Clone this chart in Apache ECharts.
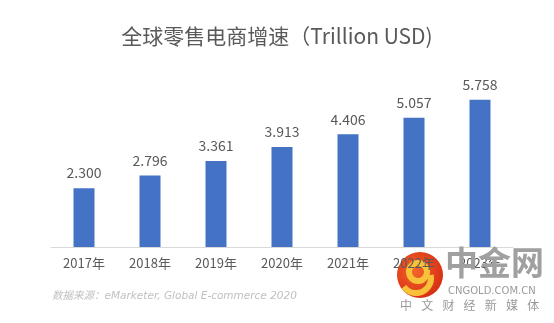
<!DOCTYPE html>
<html>
<head>
<meta charset="utf-8">
<script src="https://cdn.jsdelivr.net/npm/echarts@6/dist/echarts.min.js"></script>
<style>
  html, body { margin: 0; padding: 0; background: #ffffff; }
  #chart { width: 554px; height: 323px; }
</style>
</head>
<body>
<div id="chart"></div>
<script>
// Global retail e-commerce sales, trillion USD
const years = ['2017年', '2018年', '2019年', '2020年', '2021年', '2022年', '2023年'];
const sales = [2.300, 2.796, 3.361, 3.913, 4.406, 5.057, 5.758];

const chart = echarts.init(document.getElementById('chart'));
const grey = '#595959';
const cjk = '"Noto Sans CJK SC", "Noto Sans", sans-serif';

// brand tagline, one character per slot
const tagline = ['中', '文', '财', '经', '新', '媒', '体'];
const taglineItems = tagline.map((ch, i) => ({
  type: 'text',
  left: 400 + i * 21.2,
  top: 299,
  z: 100,
  style: { text: ch, font: '12px ' + cjk, fill: '#9a9a9a' }
}));

chart.setOption({
  animation: false,
  title: {
    text: '全球零售电商增速（Trillion USD)',
    left: 'center',
    top: 21,
    textStyle: { fontFamily: cjk, fontSize: 21, fontWeight: 'normal', color: grey }
  },
  grid: { left: 51, right: 41, top: 68, bottom: 76 },
  xAxis: {
    type: 'category',
    data: years,
    axisLine: { lineStyle: { color: '#d9d9d9', width: 1 } },
    axisTick: { show: false },
    axisLabel: { fontFamily: cjk, fontSize: 13, color: grey, margin: 10 }
  },
  yAxis: {
    type: 'value',
    min: 0,
    max: 7,
    show: false,
    splitLine: { show: false }
  },
  series: [{
    type: 'bar',
    data: sales,
    barWidth: 21,
    itemStyle: { color: '#4472C4' },
    label: {
      show: true,
      position: 'top',
      distance: 8,
      formatter: p => p.value.toFixed(3),
      fontFamily: cjk,
      fontSize: 14,
      color: grey
    }
  }],
  graphic: [
    {
      type: 'text',
      left: 52,
      top: 291,
      style: {
        text: '数据来源：eMarketer, Global E-commerce 2020',
        font: 'italic 10.5px "DejaVu Sans", "Noto Sans CJK SC", sans-serif',
        fill: '#c0c0c0'
      }
    },
    // watermark logo
    {
      type: 'group',
      left: 397,
      top: 252,
      z: 100,
      children: [
        {
          type: 'circle',
          shape: { cx: 23, cy: 23, r: 23 },
          style: {
            fill: new echarts.graphic.RadialGradient(0.4, 0.4, 0.7, [
              { offset: 0, color: '#f4652a' },
              { offset: 1, color: '#d42a12' }
            ])
          }
        },
        {
          type: 'arc',
          shape: { cx: 21, cy: 20, r: 9, startAngle: 0, endAngle: Math.PI * 2 },
          style: { stroke: '#f7c23a', lineWidth: 6, fill: null }
        },
        {
          type: 'arc',
          shape: { cx: 19, cy: 26, r: 15, startAngle: -0.2, endAngle: Math.PI * 0.8 },
          style: { stroke: '#f7c23a', lineWidth: 6, fill: null }
        }
      ]
    },
    {
      type: 'text',
      left: 445,
      top: 246,
      z: 100,
      style: {
        text: '中金网',
        font: 'bold 33px ' + cjk,
        fill: '#a0a0a0'
      }
    },
    {
      type: 'text',
      left: 448,
      top: 286,
      z: 100,
      style: {
        text: 'CNGOLD.COM.CN',
        font: '10px "DejaVu Sans", sans-serif',
        fill: '#9a9a9a'
      }
    }
  ].concat(taglineItems)
});
</script>
</body>
</html>
